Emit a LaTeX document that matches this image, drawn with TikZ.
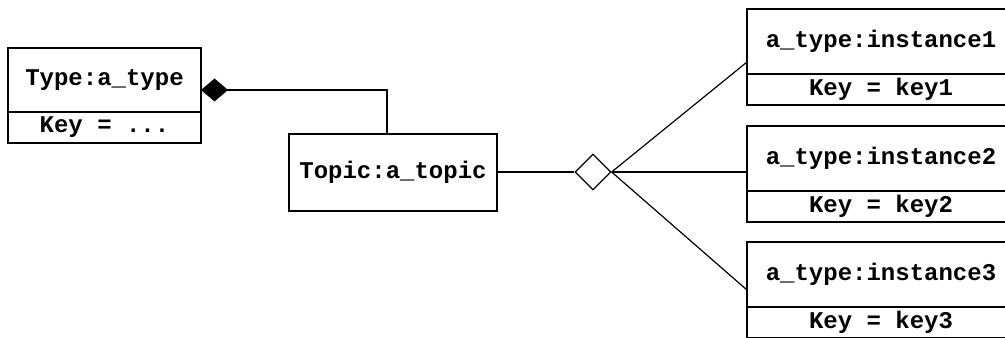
\documentclass[tikz,border=0pt]{standalone}
\usepackage{fontspec}
\setmonofont{Liberation Mono}
\usepackage{tikz}
\usetikzlibrary{arrows.meta, positioning, shapes.geometric}
\tikzset{classbox/.style={draw, line width=1pt, outer sep=0pt, inner sep=0pt,
    font=\ttfamily\bfseries\fontsize{12}{14}\selectfont},
  keybox/.style={classbox, minimum height=15.5pt}
}

\begin{document}
\begin{tikzpicture}[x=0.5pt, y=-0.5pt]
      \useasboundingbox (0,0) rectangle (1005,337);
      \clip (0,0) rectangle (1005,337);
      \node[classbox, minimum width=96.5pt, minimum height=32pt] (typetitle) at (104.5,80) {Type:a\_type};
      \node[keybox, minimum width=96.5pt, below=0pt of typetitle] (typekey) {Key = ...};
      \node[classbox, minimum width=104pt, minimum height=38.5pt] (topic) at (393,172) {Topic:a\_topic};
      \node[draw, diamond, aspect=1, inner sep=0pt, minimum size=18pt, line width=0.6pt] (agg) at (593,172) {};
      \node[classbox, minimum width=134pt, minimum height=32.5pt] (inst1) at (881,41.5) {a\_type:instance1};
      \node[keybox, minimum width=134pt, below=0pt of inst1] (inst1key) {Key = key1};
      \node[classbox, minimum width=134pt, minimum height=32.5pt] (inst2) at (881,158.5) {a\_type:instance2};
      \node[keybox, minimum width=134pt, below=0pt of inst2] (inst2key) {Key = key2};
      \node[classbox, minimum width=134pt, minimum height=32.5pt] (inst3) at (881,274.5) {a\_type:instance3};
      \node[keybox, minimum width=134pt, below=0pt of inst3] (inst3key) {Key = key3};
      \draw[line width=1pt, {Diamond[length=13.5pt, width=11.5pt]}-] ([yshift=-5pt]typetitle.east) -| ([xshift=-3pt]topic.north);
      \draw[line width=1pt] (topic.east) -- (agg.west);
      \draw[line width=1pt] (agg.east) -- (agg.east -| inst2.west);
      \draw[line width=0.6pt] (agg.east) -- ([yshift=6pt]inst1.south west);
      \draw[line width=0.6pt] (agg.east) -- ([yshift=8.5pt]inst3.south west);
    \end{tikzpicture}
\end{document}
